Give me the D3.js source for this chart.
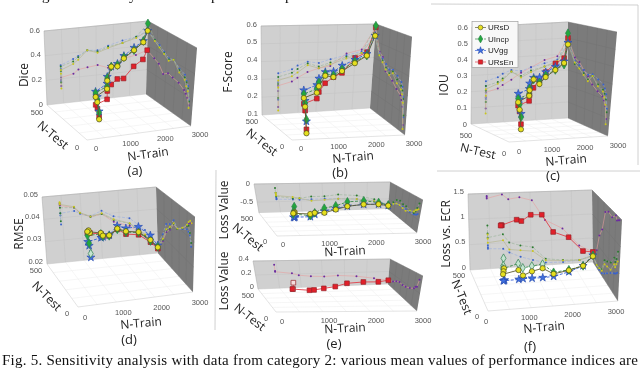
<!DOCTYPE html>
<html>
<head>
<meta charset="utf-8">
<script src="https://cdn.jsdelivr.net/npm/d3@7"></script>
<style>
  html, body { margin: 0; padding: 0; background: #fff; }
  svg { display: block; filter: blur(0.35px); }
</style>
</head>
<body>
<svg id="chart" width="640" height="368"></svg>
<script>
// Shared sweep: every run has a train size and a test size
let nTrain = [450, 450, 450, 820, 970, 1240, 1540, 1850, 2270, 2670, 3000];
let nTest = [40, 60, 80, 100, 160, 225, 275, 325, 375, 425, 500];

let seriesNames = ['URsD', 'UIncp', 'UVgg', 'URsEn'];

let diceURsD = [.12, .24, .27, .31, .34, .41, .38, .41, .44, .47, .52];
let diceUIncp = [.17, .26, .30, .33, .36, .41, .39, .42, .44, .48, .58];
let diceUVgg = [.18, .28, .31, .35, .37, .41, .40, .43, .46, .48, .52];
let diceURsEn = [.14, .19, .21, .23, .26, .27, .28, .25, .31, .33, .36];

let fscoreURsD = [.12, .25, .29, .31, .33, .37, .35, .37, .40, .43, .53];
let fscoreUIncp = [.19, .27, .31, .33, .35, .38, .36, .38, .41, .43, .59];
let fscoreUVgg = [.18, .28, .33, .35, .37, .39, .38, .40, .42, .44, .53];
let fscoreURsEn = [.14, .23, .26, .28, .30, .33, .35, .36, .43, .45, .58];

let iouURsD = [.06, .17, .21, .24, .26, .31, .27, .30, .33, .36, .46];
let iouUIncp = [.13, .20, .23, .25, .27, .31, .28, .31, .33, .35, .53];
let iouUVgg = [.15, .23, .26, .28, .30, .32, .31, .33, .35, .37, .47];
let iouURsEn = [.09, .16, .19, .21, .23, .26, .30, .33, .37, .39, .50];

let rmseURsD = [.0465, .047, .046, .0444, .0415, .0394, .0403, .0372, .0347, .029, .0226];
let rmseUIncp = [.0385, .042, .0445, .044, .0413, .0392, .040, .0368, .0345, .0285, .0228];
let rmseUVgg = [.037, .041, .042, .0425, .041, .0395, .0415, .0385, .037, .031, .0235];
let rmseURsEn = [.0465, .046, .0455, .044, .0412, .0392, .040, .036, .0335, .028, .022];

let lossURsD = [-.26, -.30, -.33, -.38, -.42, -.50, -.48, -.46, -.48, -.55, -.70];
let lossUIncp = [-.12, -.25, -.35, -.42, -.42, -.38, -.38, -.34, -.38, -.50, -.68];
let lossUVgg = [-.38, -.42, -.43, -.45, -.46, -.46, -.45, -.46, -.48, -.55, -.70];
let lossURsEn = [.34, .25, .24, .21, .18, .16, .15, .16, .14, .10, .06];

let ecrURsD = [.68, .60, .52, .55, .36, .33, .30, .10, .07, .06, .12];
let ecrUIncp = [.86, .70, .62, .67, .50, .43, .38, .13, .08, .06, .14];
let ecrUVgg = [.47, .43, .40, .38, .30, .20, .12, .05, .04, .06, .14];
let ecrURsEn = [1.45, 1.43, 1.40, 1.47, 1.37, 1.40, 1.33, .92, .73, .36, .21];

let trainTicks = [0, 1000, 2000, 3000];
let testTicks = [0, 500];

let captionText = 'Fig. 5. Sensitivity analysis with data from category 2: various mean values of performance indices are';

// Look of each series: main curve marker, and the small marker on the walls
let looks = {
  URsD: { symbol: d3.symbolCircle, size: 22, fill: '#e6e01e', stroke: '#4a4a20', line: '#5c5c30', dash: null, wall: '#c9c61c', wallLine: '#b4b48c', pale: '#e6e01e' },
  UIncp: { symbol: d3.symbolDiamond, size: 22, fill: '#22a83c', stroke: '#2f7f4f', line: '#3a8a4a', dash: '3,1.5', wall: '#2c7a30', wallLine: '#98b498', pale: '#c4e4d0' },
  UVgg: { symbol: d3.symbolStar, size: 20, fill: '#3f6fe0', stroke: '#2b4fb0', line: '#3560d8', dash: '3,1.5', wall: '#3b62c8', wallLine: '#9aaee0', pale: '#3f6fe0' },
  URsEn: { symbol: d3.symbolSquare, size: 22, fill: '#e2202a', stroke: '#96242a', line: '#e0404a', dash: null, wall: '#6a2ca0', wallLine: '#e6a0a0', pale: '#f4dcdc' }
};

// Panel layout in page pixels: corners of the box, t = top, b = bottom, back/front, left/right
let panels = [
  {
    name: 'Dice', letter: '(a)', domain: [0, .6], ticks: [0, .2, .4, .6],
    values: [diceURsEn, diceUVgg, diceUIncp, diceURsD],
    btl: [44, 31], bbl: [47, 105], btr: [148, 21], bbr: [146, 94], ftr: [197, 48], fbr: [191, 126], ftl: [85, 60], fbl: [87, 140],
    trainOff: [9, 8], testOff: [-10, 7], valueDy: -1,
    nameAt: [24, 75], testAt: [53, 135, 40], trainAt: [148, 154, -8], letterAt: [135, 170]
  },
  {
    name: 'F-Score', letter: '(b)', domain: [.1, .6], ticks: [.1, .2, .3, .4, .5, .6],
    values: [fscoreURsEn, fscoreUVgg, fscoreUIncp, fscoreURsD],
    btl: [261, 26], bbl: [262, 115], btr: [376, 24], bbr: [370, 108], ftr: [412, 37], fbr: [405, 135], ftl: [290, 40], fbl: [292, 140],
    trainOff: [9, 8], testOff: [-10, 6], valueDy: -2,
    nameAt: [228, 72], testAt: [262, 142, 38], trainAt: [353, 157, -5], letterAt: [340, 172]
  },
  {
    name: 'IOU', letter: '(c)', domain: [0, .6], ticks: [0, .1, .2, .3, .4, .5, .6],
    values: [iouURsEn, iouUVgg, iouUIncp, iouURsD],
    btl: [472, 27], bbl: [471, 124], btr: [568, 22], bbr: [568, 118], ftr: [617, 32], fbr: [608, 136], ftl: [509, 38], fbl: [509, 142],
    trainOff: [10, 9], testOff: [-5, 11], valueDy: 0,
    nameAt: [444, 85], testAt: [478, 151, 13], trainAt: [566, 160, -5], letterAt: [553, 175]
  },
  {
    name: 'RMSE', letter: '(d)', domain: [.02, .05], ticks: [.02, .03, .04, .05],
    values: [rmseURsEn, rmseUVgg, rmseUIncp, rmseURsD], pale: { UIncp: 1 },
    btl: [42, 197], bbl: [47, 264], btr: [156, 187], bbr: [158, 253], ftr: [195, 217], fbr: [193, 292], ftl: [74, 228], fbl: [78, 307],
    trainOff: [7, 10], testOff: [-11, 6], valueDy: -3,
    nameAt: [19, 234], testAt: [47, 296, 45], trainAt: [141, 323, -5], letterAt: [129, 339]
  },
  {
    name: 'Loss Value', domain: [-.8, 0], ticks: [-.5, 0],
    values: [lossUVgg, lossUIncp, lossURsD], seriesKeys: ['UVgg', 'UIncp', 'URsD'],
    btl: [254, 184], bbl: [259, 213], btr: [390, 182], bbr: [388, 209], ftr: [423, 200], fbr: [417, 233], ftl: [273, 204], fbl: [277, 236],
    trainOff: [6, 8], testOff: [-12, 5], valueDy: -1,
    nameAt: [224, 210], testAt: [248, 237, 40], trainAt: [345, 251, -3]
  },
  {
    name: 'Loss Value', letter: '(e)', domain: [0, .4], ticks: [0, .2, .4],
    values: [lossURsEn], seriesKeys: ['URsEn'], pale: { URsEn: 2 },
    btl: [253, 261], bbl: [258, 289], btr: [390, 259], bbr: [388, 284], ftr: [423, 276], fbr: [417, 311], ftl: [272, 280], fbl: [276, 312],
    trainOff: [6, 9], testOff: [-10, 6], valueDy: -3,
    nameAt: [224, 281], testAt: [250, 317, 38], trainAt: [345, 328, -3], letterAt: [334, 343]
  },
  {
    name: 'Loss vs. ECR', letter: '(f)', domain: [0, 1.5], ticks: [0, .5, 1, 1.5],
    values: [ecrURsEn, ecrUVgg, ecrUIncp, ecrURsD], pale: { UIncp: 7 },
    btl: [468, 194], bbl: [470, 270], btr: [592, 190], bbr: [593, 262], ftr: [622, 220], fbr: [618, 301], ftl: [482, 226], fbl: [488, 311],
    trainOff: [-2, 10], testOff: [-11, 5], valueDy: -3,
    nameAt: [446, 234], testAt: [462, 297, 68], trainAt: [544, 327, -5], letterAt: [530, 346]
  }
];

let svg = d3.select('#chart');
let sansFont = '"Liberation Sans", Arial, sans-serif';
let labelFont = '"Open Sans", "Noto Sans", sans-serif';

let trainScale = d3.scaleLinear().domain([0, 3000]).range([0, 1]);
let testScale = d3.scaleLinear().domain([0, 500]).range([0, 1]);

let mix = (a, b, t) => {
  return d3.interpolateArray(a, b)(t);
}

let drawPanel = (panel) => {
  let valueScale = d3.scaleLinear().domain(panel.domain).range([0, 1]);

  // Trilinear box projection from the panel corners
  let project = (train, test, value) => {
    let tx = trainScale(train);
    let ty = testScale(test);
    let tz = valueScale(value);
    let bottom = mix(mix(panel.fbl, panel.fbr, tx), mix(panel.bbl, panel.bbr, tx), ty);
    let frontTop = mix(panel.ftl, panel.ftr, tx);
    let backTop = mix(panel.btl, panel.btr, tx);
    let top = mix(frontTop, backTop, ty);
    return mix(bottom, top, tz);
  }

  let low = panel.domain[0];
  let high = panel.domain[1];
  let line = d3.line();
  let g = svg.append('g');

  // Walls and floor
  let quad = (points, fill) => {
    g.append('path').attr('d', line(points) + 'Z').attr('fill', fill);
  }
  quad([project(0, 500, low), project(3000, 500, low), project(3000, 500, high), project(0, 500, high)], '#d0d0d0');
  quad([project(3000, 500, low), project(3000, 0, low), project(3000, 0, high), project(3000, 500, high)], '#7b7b7b');

  let gridLine = (points, colour) => {
    g.append('path').attr('d', line(points)).attr('fill', 'none').attr('stroke', colour).attr('stroke-width', 0.5);
  }
  [500, 1000, 1500, 2000, 2500].forEach((t) => {
    gridLine([project(t, 500, low), project(t, 500, high)], '#c2c2c2');
    gridLine([project(t, 0, low), project(t, 500, low)], '#ececec');
  });
  [100, 200, 300, 400].forEach((t) => {
    gridLine([project(0, t, low), project(3000, t, low)], '#ececec');
    gridLine([project(3000, t, low), project(3000, t, high)], '#727272');
  });
  panel.ticks.forEach((v) => {
    gridLine([project(0, 500, v), project(3000, 500, v)], '#c2c2c2');
    gridLine([project(3000, 500, v), project(3000, 0, v)], '#727272');
  });
  gridLine([project(0, 500, low), project(0, 0, low), project(3000, 0, low)], '#c8c8c8');
  gridLine([project(0, 500, low), project(0, 500, high)], '#a8a8a8');
  gridLine([project(0, 500, high), project(3000, 500, high)], '#a8a8a8');

  let keys = panel.seriesKeys || ['URsEn', 'UVgg', 'UIncp', 'URsD'];
  let paleCounts = panel.pale || {};

  // Projections on the back and right walls, then the curves themselves
  keys.forEach((key, k) => {
    let look = looks[key];
    let values = panel.values[k];
    let back = values.map((v, i) => project(nTrain[i], 500, v));
    let right = values.map((v, i) => project(3000, nTest[i], v));
    [back, right].forEach((points) => {
      g.append('path').attr('d', line(points)).attr('fill', 'none')
        .attr('stroke', look.wallLine).attr('stroke-width', 0.6).attr('stroke-dasharray', look.dash);
      g.selectAll(null).data(points).enter().append('circle')
        .attr('cx', (p) => p[0]).attr('cy', (p) => p[1]).attr('r', 1)
        .attr('fill', look.wall);
    });
  });

  keys.forEach((key, k) => {
    let look = looks[key];
    let main = panel.values[k].map((v, i) => project(nTrain[i], nTest[i], v));
    let marker = d3.symbol().type(look.symbol).size(look.size);
    let paleCount = paleCounts[key] || 0;
    g.append('path').attr('d', line(main)).attr('fill', 'none')
      .attr('stroke', look.line).attr('stroke-width', 0.9).attr('stroke-dasharray', look.dash);
    g.selectAll(null).data(main).enter().append('path')
      .attr('d', marker())
      .attr('transform', (p) => 'translate(' + p[0] + ',' + p[1] + ')')
      .attr('fill', (p, i) => i < paleCount ? look.pale : look.fill)
      .attr('stroke', look.stroke).attr('stroke-width', 0.7);
  });

  // Tick labels
  let tickLabel = (x, y, text, anchor) => {
    g.append('text').attr('x', x).attr('y', y).attr('dy', '0.35em')
      .attr('text-anchor', anchor).attr('font-family', sansFont)
      .attr('font-size', 7.5).attr('fill', '#555').text(text);
  }
  panel.ticks.forEach((v) => {
    let p = project(0, 500, v);
    let text = Math.abs(v) < 1e-9 ? '0' : String(v).replace(/^(-?)\./, '$10.');
    tickLabel(p[0] - 4, p[1] + panel.valueDy, text, 'end');
  });
  trainTicks.forEach((t) => {
    let p = project(t, 0, low);
    tickLabel(p[0] + panel.trainOff[0], p[1] + panel.trainOff[1], t, 'middle');
  });
  testTicks.forEach((t) => {
    let p = project(0, t, low);
    tickLabel(p[0] + panel.testOff[0], p[1] + panel.testOff[1], t, 'middle');
  });

  // Axis names
  let axisName = (at, angle, text, size) => {
    g.append('text').attr('text-anchor', 'middle').attr('dy', '0.35em')
      .attr('transform', 'translate(' + at[0] + ',' + at[1] + ') rotate(' + angle + ')')
      .attr('font-family', labelFont).attr('font-size', size).attr('fill', '#222').text(text);
  }
  axisName(panel.nameAt, -90, panel.name, 12);
  axisName(panel.testAt, panel.testAt[2], 'N-Test', 12);
  axisName(panel.trainAt, panel.trainAt[2], 'N-Train', 12);
  if (panel.letter) {
    axisName(panel.letterAt, 0, panel.letter, 13);
  }
}

let drawLegend = () => {
  let g = svg.append('g');
  g.append('rect').attr('x', 472).attr('y', 21.5).attr('width', 46).attr('height', 46)
    .attr('fill', '#f8f8f8').attr('stroke', '#a0a0a0').attr('stroke-width', 0.7);
  let rowScale = d3.scalePoint().domain(seriesNames).range([27.5, 62]);
  seriesNames.forEach((key) => {
    let look = looks[key];
    let y = rowScale(key);
    g.append('line').attr('x1', 475).attr('x2', 486).attr('y1', y).attr('y2', y)
      .attr('stroke', look.line).attr('stroke-width', 0.7).attr('stroke-dasharray', look.dash);
    g.append('path').attr('d', d3.symbol().type(look.symbol).size(look.size * 0.8)())
      .attr('transform', 'translate(480.5,' + y + ')')
      .attr('fill', look.fill).attr('stroke', look.stroke).attr('stroke-width', 0.6);
    g.append('text').attr('x', 488).attr('y', y).attr('dy', '0.35em')
      .attr('font-family', sansFont).attr('font-size', 8).attr('fill', '#222').text(key);
  });
}

let drawFrame = () => {
  // Thin rules left over from the pasted figure
  let rules = [[[431, 4], [638, 5]], [[638, 5], [638, 165]], [[437, 171], [640, 171]], [[216, 170], [215, 330]]];
  rules.forEach((r) => {
    svg.append('path').attr('d', d3.line()(r)).attr('stroke', '#c4c4c4').attr('stroke-width', 0.8).attr('fill', 'none');
  });
}

let drawCaption = () => {
  svg.append('text').attr('x', 2).attr('y', 365)
    .attr('font-family', '"Liberation Serif", serif').attr('font-size', 15)
    .attr('textLength', 636).attr('lengthAdjust', 'spacing').attr('fill', '#111').text(captionText);
  // The line above the figure is cut off, only its descenders remain
  [['g', 42], ['y', 129], ['p', 211], ['p', 285]].forEach((c) => {
    svg.append('text').attr('x', c[1]).attr('y', 0)
      .attr('font-family', '"Liberation Serif", serif').attr('font-size', 15).attr('fill', '#111').text(c[0]);
  });
}

drawFrame();
panels.forEach(drawPanel);
drawLegend();
drawCaption();
</script>
</body>
</html>
